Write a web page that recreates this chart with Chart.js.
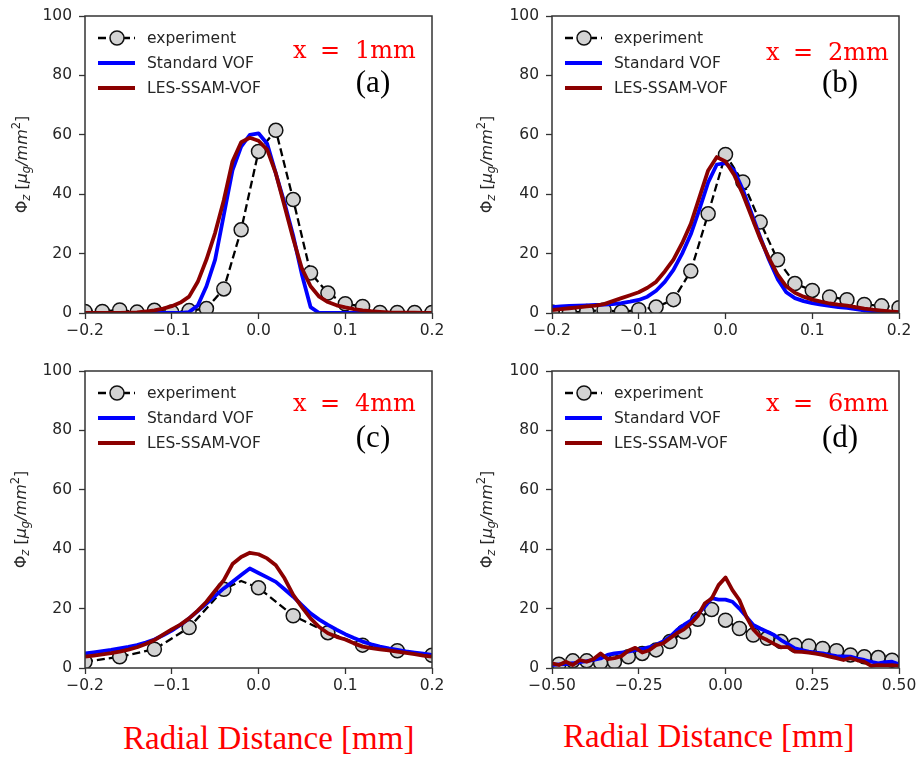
<!DOCTYPE html>
<html>
<head>
<meta charset="utf-8">
<script src="https://cdn.jsdelivr.net/npm/chart.js@4.4.1/dist/chart.umd.min.js"></script>
<style>
  body { margin: 0; background: #fff; }
  #wrap { position: relative; width: 919px; height: 758px; overflow: hidden; background: #fff; }
  #wrap canvas { position: absolute; }
  .xlabel { position: absolute; color: #ff0000; font: 33px "Liberation Serif", serif; line-height: 33px; white-space: nowrap; }
</style>
</head>
<body>
<div id="wrap">
  <canvas id="chartA" width="459" height="357" style="left:0px;top:0px"></canvas>
  <canvas id="chartB" width="460" height="357" style="left:459px;top:0px"></canvas>
  <canvas id="chartC" width="459" height="358" style="left:0px;top:357px"></canvas>
  <canvas id="chartD" width="460" height="358" style="left:459px;top:357px"></canvas>
  <div class="xlabel" style="left:123px;top:722px">Radial Distance [mm]</div>
  <div class="xlabel" style="left:563px;top:720px">Radial Distance [mm]</div>
</div>
<script>
// ---- data ----
const Y_TICKS = [0, 20, 40, 60, 80, 100];
const X_TICKS_NARROW = [-0.2, -0.1, 0, 0.1, 0.2];
const X_TICKS_WIDE = [-0.5, -0.25, 0, 0.25, 0.5];

// radial positions of the simulation samples (panels a-c)
const LINE_X = [-0.2, -0.19, -0.18, -0.17, -0.16, -0.15, -0.14, -0.13, -0.12, -0.11,
    -0.1, -0.09, -0.08, -0.07, -0.06, -0.05, -0.04, -0.03, -0.02, -0.01, 0,
    0.01, 0.02, 0.03, 0.04, 0.05, 0.06, 0.07, 0.08, 0.09, 0.1,
    0.11, 0.12, 0.13, 0.14, 0.15, 0.16, 0.17, 0.18, 0.19, 0.2];
// panel d samples
const LINE_X_D = [-0.5, -0.48, -0.46, -0.44, -0.42, -0.4, -0.38, -0.36, -0.34, -0.32,
    -0.3, -0.28, -0.26, -0.24, -0.22, -0.2, -0.18, -0.16, -0.14, -0.12,
    -0.1, -0.08, -0.06, -0.04, -0.02, 0, 0.02, 0.04, 0.06, 0.08,
    0.1, 0.12, 0.14, 0.16, 0.18, 0.2, 0.22, 0.24, 0.26, 0.28,
    0.3, 0.32, 0.34, 0.36, 0.38, 0.4, 0.42, 0.44, 0.46, 0.48, 0.5];

// (a) x = 1mm
const EXP_A_X = [-0.2, -0.18, -0.16, -0.14, -0.12, -0.1, -0.08, -0.06, -0.04, -0.02, 0,
    0.02, 0.04, 0.06, 0.08, 0.1, 0.12, 0.14, 0.16, 0.18, 0.2];
const EXP_A_Y = [0.5, 0.5, 1, 0.3, 0.9, 0.3, 0.8, 1.5, 8.1, 28, 54.4,
    61.5, 38.2, 13.5, 6.7, 3.1, 2.2, 0.2, 0.2, 0.2, 0.2];
const STD_A = [0, 0, 0, 0, 0, 0, 0, 0, 0, 0,
    0, 0, 0.3, 2.5, 9, 18, 33, 48, 56, 60, 60.5,
    57, 47, 37, 26, 13, 2, 0, 0, 0, 0,
    0, 0, 0, 0, 0, 0, 0, 0, 0, 0];
const LES_A = [0, 0, 0, 0, 0, 0.1, 0.2, 0.5, 0.9, 1.5,
    2.3, 3.5, 5.5, 10.5, 18, 27, 38, 51, 57.5, 59, 58,
    55, 47, 36, 25, 15, 9, 5.5, 3.7, 2.6, 1.9,
    1.3, 0.9, 0.6, 0.4, 0.2, 0.1, 0.1, 0.1, 0, 0];

// (b) x = 2mm
const EXP_B_X = EXP_A_X;
const EXP_B_Y = [0.3, 0.2, 0.5, 1, 0.4, 1.1, 2, 4.5, 14.1, 33.4, 53.4,
    44.1, 30.6, 17.9, 9.9, 7.6, 5.4, 4.5, 2.9, 2.4, 1.8];
const STD_B = [2, 2.2, 2.4, 2.5, 2.6, 2.7, 2.8, 3, 3.3, 3.8,
    4.4, 5.5, 7.5, 10.5, 14.5, 20, 26.5, 35, 44, 50, 50.5,
    48, 41.5, 33.5, 25.5, 18, 11.5, 7, 5, 4, 3.3,
    2.8, 2.4, 2, 1.7, 1.3, 0.9, 0.6, 0.4, 0.3, 0.2];
const LES_B = [1, 1.3, 1.6, 1.9, 2.2, 2.5, 3, 4, 5, 6,
    7, 8.5, 10.5, 14, 18, 23.5, 30, 39, 48, 52.5, 51,
    46.5, 40, 32.5, 25, 18.5, 13, 9, 6.8, 5.5, 4.5,
    3.8, 3.2, 2.8, 2.5, 2, 1.5, 1.1, 0.8, 0.5, 0.3];

// (c) x = 4mm
const EXP_C_X = [-0.2, -0.16, -0.12, -0.08, -0.04, -0.02, 0, 0.04, 0.08, 0.12, 0.16, 0.2];
const EXP_C_Y = [2.1, 3.8, 6.3, 13.6, 26.5, 29.3, 27, 17.6, 11.9, 7.7, 5.8, 4.3];
const EXP_C_UNMARKED = [5];
const STD_C = [4.9, 5.3, 5.7, 6.1, 6.6, 7.1, 7.7, 8.6, 9.6, 11,
    12.6, 14.5, 16.7, 19.2, 21.7, 24.3, 26.8, 29, 31.3, 33.5, 32,
    30.5, 29, 26.5, 24, 21.2, 18.4, 16.3, 14.5, 12.9, 11.4,
    10.1, 8.9, 8, 7.2, 6.6, 6.1, 5.6, 5.2, 4.8, 4.4];
const LES_C = [3.8, 4.2, 4.6, 5, 5.5, 6.2, 7, 8.1, 9.4, 11.2,
    13, 14.6, 16.7, 19.3, 22.3, 26, 29.6, 35, 37.4, 38.8, 38.3,
    36.9, 34.6, 30.2, 24.6, 20.5, 16.7, 13.8, 11.7, 10.5, 9.6,
    8.3, 7.2, 6.7, 6.3, 5.9, 5.5, 5.1, 4.7, 4.2, 3.8];

// (d) x = 6mm
const EXP_D_X = [-0.48, -0.44, -0.4, -0.36, -0.32, -0.28, -0.24, -0.2, -0.16, -0.12, -0.08, -0.04, 0,
    0.04, 0.08, 0.12, 0.16, 0.2, 0.24, 0.28, 0.32, 0.36, 0.4, 0.44, 0.48];
const EXP_D_Y = [1.3, 2.4, 2.4, 1.8, 2.1, 3.8, 4.9, 6.1, 8.9, 12.2, 16.4, 19.7, 16.1,
    13.3, 11.1, 10, 8.9, 7.7, 7.4, 6.6, 5.8, 4.4, 3.8, 3.5, 2.6];
const STD_D = [1, 1.2, 1.3, 1.6, 2, 2.3, 2.7, 3.2, 4.4, 4.9,
    5.2, 5.5, 6, 6.4, 7, 7.8, 8.9, 10.5, 12.8, 14.5,
    16, 18.2, 20.6, 23.5, 23, 23, 22.3, 20, 17.3, 14.5,
    13.3, 12.2, 11.1, 9.4, 8, 6.6, 6, 5.5, 5.2, 4.9,
    4.4, 4, 3.9, 3.8, 3.2, 2.7, 2.1, 1.6, 2, 2.1, 1.3];
const LES_D = [1.6, 1, 2.1, 1, 2.7, 2.1, 3, 4.9, 3, 3.3,
    4, 5.8, 6.8, 5.2, 6, 7.7, 8.3, 10, 11.7, 13,
    15, 17.5, 21.7, 23.4, 27.9, 30.5, 26.2, 22.9, 17.3, 13,
    10.5, 9.4, 8.1, 7, 7, 5.5, 5.4, 5.2, 4.8, 4.4,
    3.8, 3.3, 2.7, 3.3, 2.6, 2.1, 0.7, 1, 0.9, 1, 0.7];

const SERIES_NAMES = ["experiment", "Standard VOF", "LES-SSAM-VOF"];

// ---- drawing ----
const TICK_FONT = { family: "DejaVu Sans", size: 15.5 };
const INK = "#262626";

function pts(xs, ys) {
    return xs.map((x, i) => ({ x: x, y: ys[i] }));
}

function fmtTick(v, dec) {
    const s = Math.abs(v).toFixed(dec);
    return (v < -1e-9 ? "\u2212" : "") + s;
}

function drawYTitle(ctx, area, x) {
    const cy = (area.top + area.bottom) / 2;
    const parts = [
        { t: "\u03a6", f: '16px "DejaVu Sans"', dy: 0 },
        { t: "z", f: 'italic 11.5px "DejaVu Sans"', dy: 3.5 },
        { t: " [", f: '16px "DejaVu Sans"', dy: 0 },
        { t: "\u03bc", f: 'italic 16px "DejaVu Sans"', dy: 0 },
        { t: "g", f: 'italic 11.5px "DejaVu Sans"', dy: 3.5 },
        { t: "/", f: 'italic 16px "DejaVu Sans"', dy: 0 },
        { t: "mm", f: 'italic 16px "DejaVu Sans"', dy: 0 },
        { t: "2", f: '11.5px "DejaVu Sans"', dy: -6.5 },
        { t: "]", f: '16px "DejaVu Sans"', dy: 0 }
    ];
    ctx.save();
    let total = 0;
    parts.forEach((p) => {
        ctx.font = p.f;
        p.w = ctx.measureText(p.t).width;
        total += p.w;
    });
    ctx.translate(x, cy);
    ctx.rotate(-Math.PI / 2);
    ctx.fillStyle = INK;
    ctx.textBaseline = "alphabetic";
    let cx = -total / 2;
    parts.forEach((p) => {
        ctx.font = p.f;
        ctx.fillText(p.t, cx, 5.5 + p.dy);
        cx += p.w;
    });
    ctx.restore();
}

function drawLegend(chart) {
    const ctx = chart.ctx;
    const a = chart.chartArea;
    const rows = [22, 47, 72];
    const x0 = a.left + 13;
    const x1 = a.left + 50;
    const ds = chart.data.datasets;
    ctx.save();
    rows.forEach((dy, i) => {
        const y = a.top + dy;
        const d = ds[i];
        ctx.beginPath();
        ctx.strokeStyle = d.borderColor;
        ctx.lineWidth = d.borderWidth;
        ctx.setLineDash(d.borderDash || []);
        ctx.moveTo(x0, y);
        ctx.lineTo(x1, y);
        ctx.stroke();
        ctx.setLineDash([]);
        if (d.pointRadius) {
            ctx.beginPath();
            ctx.arc(a.left + 32, y, 7, 0, Math.PI * 2);
            ctx.fillStyle = d.pointBackgroundColor;
            ctx.fill();
            ctx.lineWidth = d.pointBorderWidth;
            ctx.strokeStyle = d.pointBorderColor;
            ctx.stroke();
        }
        ctx.fillStyle = INK;
        ctx.font = '15.5px "DejaVu Sans"';
        ctx.textBaseline = "middle";
        ctx.textAlign = "left";
        ctx.fillText(d.label, a.left + 62, y + 1);
    });
    ctx.restore();
}

function drawStation(ctx, area, o) {
    ctx.save();
    ctx.fillStyle = "#ff0000";
    ctx.font = '24px "DejaVu Serif"';
    ctx.textBaseline = "alphabetic";
    const by = area.top + o.stationDy;
    const bx = area.left + o.stationDx;
    ctx.textAlign = "left";
    ctx.fillText("x", bx, by);
    ctx.textAlign = "center";
    ctx.fillText("=", bx + 37, by);
    ctx.textAlign = "left";
    ctx.fillText(o.station, bx + 62, by);
    ctx.fillStyle = "#000";
    ctx.font = '31px "Liberation Serif"';
    ctx.textAlign = "center";
    ctx.fillText(o.tag, area.left + 288, area.top + 76);
    ctx.restore();
}

const decorPlugin = {
    id: "decor",
    afterDatasetsDraw(chart) {
        const a = chart.chartArea;
        const ctx = chart.ctx;
        ctx.save();
        ctx.strokeStyle = "#333";
        ctx.lineWidth = 1.5;
        ctx.strokeRect(a.left, a.top, a.right - a.left, a.bottom - a.top);
        ctx.restore();
    },
    afterDraw(chart, args, opts) {
        drawLegend(chart);
        drawStation(chart.ctx, chart.chartArea, opts);
        drawYTitle(chart.ctx, chart.chartArea, opts.titleX);
    }
};

function makePanel(id, p) {
    const canvas = document.getElementById(id);
    const W = canvas.width;
    const H = canvas.height;
    const hidden = p.unmarked || [];
    const gridCfg = {
        display: true,
        drawOnChartArea: false,
        drawTicks: true,
        tickLength: 6,
        tickWidth: 1.3,
        tickColor: "#333"
    };
    return new Chart(canvas, {
        type: "line",
        data: {
            datasets: [
                {
                    label: SERIES_NAMES[0],
                    data: pts(p.expX, p.expY),
                    borderColor: "#000",
                    borderWidth: 2.3,
                    borderDash: [8, 4],
                    pointRadius: (c) => (hidden.includes(c.dataIndex) ? 0 : 7),
                    pointBackgroundColor: "#d3d3d3",
                    pointBorderColor: "#111",
                    pointBorderWidth: 1.5,
                    order: 3,
                    clip: 0
                },
                {
                    label: SERIES_NAMES[1],
                    data: pts(p.lineX, p.std),
                    borderColor: "#0000ff",
                    borderWidth: 3.8,
                    pointRadius: 0,
                    order: 2,
                    clip: 0
                },
                {
                    label: SERIES_NAMES[2],
                    data: pts(p.lineX, p.les),
                    borderColor: "#8b0000",
                    borderWidth: 3.8,
                    pointRadius: 0,
                    order: 1,
                    clip: 0
                }
            ]
        },
        options: {
            responsive: false,
            animation: false,
            devicePixelRatio: 1,
            layout: { padding: { left: 0, top: p.area.top, right: W - p.area.right, bottom: 0 } },
            elements: { line: { tension: 0, borderCapStyle: "butt", borderJoinStyle: "round" } },
            plugins: {
                legend: { display: false },
                tooltip: { enabled: false },
                decor: {
                    station: p.station,
                    tag: p.tag,
                    stationDx: p.stationDx,
                    stationDy: p.stationDy,
                    titleX: p.titleX
                }
            },
            scales: {
                x: {
                    type: "linear",
                    min: p.xTicks[0],
                    max: p.xTicks[p.xTicks.length - 1],
                    afterBuildTicks: (s) => { s.ticks = p.xTicks.map((v) => ({ value: v })); },
                    afterFit: (s) => {
                        s.height = H - p.area.bottom;
                        s.paddingLeft = 0;
                        s.paddingRight = 0;
                    },
                    ticks: {
                        font: TICK_FONT,
                        color: INK,
                        padding: 3,
                        maxRotation: 0,
                        autoSkip: false,
                        callback: (v) => fmtTick(v, p.xDec)
                    },
                    grid: gridCfg,
                    border: { display: false }
                },
                y: {
                    min: 0,
                    max: 100,
                    afterBuildTicks: (s) => { s.ticks = Y_TICKS.map((v) => ({ value: v })); },
                    afterFit: (s) => {
                        s.width = p.area.left;
                        s.paddingTop = 0;
                        s.paddingBottom = 0;
                    },
                    ticks: {
                        font: TICK_FONT,
                        color: INK,
                        padding: 7,
                        callback: (v) => String(v)
                    },
                    grid: gridCfg,
                    border: { display: false }
                }
            }
        },
        plugins: [decorPlugin]
    });
}

makePanel("chartA", {
    area: { left: 85, top: 16, right: 432, bottom: 313 },
    xTicks: X_TICKS_NARROW, xDec: 1,
    expX: EXP_A_X, expY: EXP_A_Y, lineX: LINE_X, std: STD_A, les: LES_A,
    station: "1mm", tag: "(a)", stationDx: 208, stationDy: 42, titleX: 21
});
makePanel("chartB", {
    area: { left: 93, top: 16, right: 440, bottom: 313 },
    xTicks: X_TICKS_NARROW, xDec: 1,
    expX: EXP_B_X, expY: EXP_B_Y, lineX: LINE_X, std: STD_B, les: LES_B,
    station: "2mm", tag: "(b)", stationDx: 214, stationDy: 44, titleX: 27
});
makePanel("chartC", {
    area: { left: 85, top: 14, right: 432, bottom: 311 },
    xTicks: X_TICKS_NARROW, xDec: 1,
    expX: EXP_C_X, expY: EXP_C_Y, unmarked: EXP_C_UNMARKED, lineX: LINE_X, std: STD_C, les: LES_C,
    station: "4mm", tag: "(c)", stationDx: 208, stationDy: 40, titleX: 20
});
makePanel("chartD", {
    area: { left: 93, top: 14, right: 440, bottom: 311 },
    xTicks: X_TICKS_WIDE, xDec: 2,
    expX: EXP_D_X, expY: EXP_D_Y, lineX: LINE_X_D, std: STD_D, les: LES_D,
    station: "6mm", tag: "(d)", stationDx: 214, stationDy: 40, titleX: 27
});
</script>
</body>
</html>
